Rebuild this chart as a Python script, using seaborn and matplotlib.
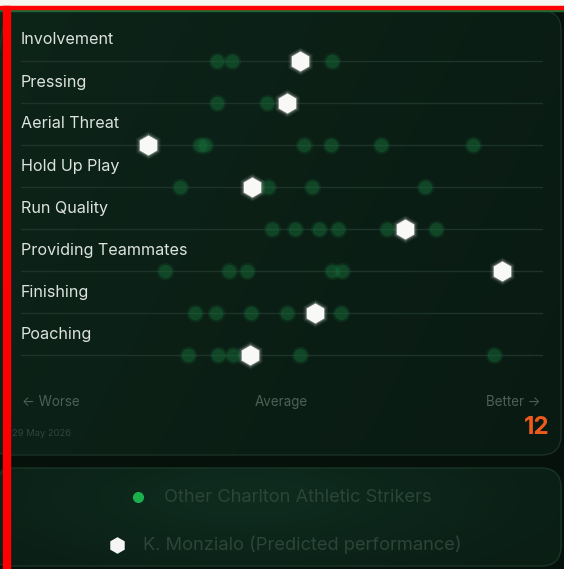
import numpy as np
import pandas as pd
import matplotlib.pyplot as plt
import seaborn as sns
from matplotlib.patches import FancyBboxPatch, Rectangle

# Data: scores relative to average (roughly -3 = worse, +3 = better)
metrics = ["Involvement", "Pressing", "Aerial Threat", "Hold Up Play",
           "Run Quality", "Providing Teammates", "Finishing", "Poaching"]

involvement_others = [-0.75, -0.57, 0.57]
pressing_others = [-0.75, -0.17]
aerial_others = [-0.94, -0.89, 0.25, 0.56, 1.14, 2.20]
holdup_others = [-1.17, -0.16, 0.34, 1.64]
runquality_others = [-0.11, 0.15, 0.43, 0.64, 1.21, 1.77]
providing_others = [-1.34, -0.61, -0.40, 0.57, 0.69]
finishing_others = [-1.00, -0.76, -0.36, 0.06, 0.68]
poaching_others = [-1.08, -0.74, -0.56, 0.21, 2.44]

player_scores = [0.21, 0.06, -1.54, -0.34, 1.41, 2.53, 0.38, -0.37]

others_lists = [involvement_others, pressing_others, aerial_others, holdup_others,
                runquality_others, providing_others, finishing_others, poaching_others]

others = pd.DataFrame(
    [(m, v) for m, vals in zip(metrics, others_lists) for v in vals],
    columns=["metric", "score"])
player = pd.DataFrame({"metric": metrics, "score": player_scores})

W, H = 564, 569
fig = plt.figure(figsize=(W / 100, H / 100), dpi=100)
fig.patch.set_facecolor("#06110c")

def fx(px):
    return px / W

def fy(py):
    return 1 - py / H

# page frame bits
fig.patches.append(Rectangle((0, fy(6)), 1, 6 / H, transform=fig.transFigure,
                             color="#f7f5f0", zorder=0))
fig.patches.append(Rectangle((0, fy(8.5)), 1, 2.5 / H, transform=fig.transFigure,
                             color="#ff0000", zorder=5))
fig.patches.append(Rectangle((0, fy(10.5)), 1, 2 / H, transform=fig.transFigure,
                             color="#1a6a35", zorder=4))

# background axes holding the two cards with soft gradients
bg = fig.add_axes([0, 0, 1, 1])
bg.set_xlim(0, W)
bg.set_ylim(H, 0)
bg.set_axis_off()
bg.set_zorder(1)

card1 = FancyBboxPatch((-10, 10.5), 571, 444.5, boxstyle="round,pad=0,rounding_size=20",
                       facecolor="none", edgecolor="#1a3126", linewidth=1.0, zorder=3)
card2 = FancyBboxPatch((-10, 468), 571, 98, boxstyle="round,pad=0,rounding_size=20",
                       facecolor="none", edgecolor="#1a3527", linewidth=1.0, zorder=3)
bg.add_patch(card1)
bg.add_patch(card2)

from matplotlib.colors import LinearSegmentedColormap
grad1 = LinearSegmentedColormap.from_list("g1", ["#0d2419", "#091a12"])
gx = np.linspace(0, 1, 200)
gy = np.linspace(0, 1, 200)
GX, GY = np.meshgrid(gx, gy)
im1 = bg.imshow(0.7 * GX + 0.3 * GY, cmap=grad1, extent=(-10, 561, 455, 10.5),
                aspect="auto", zorder=2)
im1.set_clip_path(card1)
grad2 = LinearSegmentedColormap.from_list("g2", ["#0f2c1f", "#0a1e15"])
R = np.sqrt(((GX - 0.45) / 0.6) ** 2 + ((GY - 0.3) / 1.0) ** 2)
im2 = bg.imshow(np.clip(R, 0, 1), cmap=grad2, extent=(-10, 561, 566, 468),
                aspect="auto", zorder=2)
im2.set_clip_path(card2)

# left red bar
fig.patches.append(Rectangle((fx(3), 0), 7 / W, fy(6), transform=fig.transFigure,
                             color="#ff0000", zorder=6))

# strip chart axes: x from 21 to 543 px, rows at y = 61 + 42*i
ax = fig.add_axes([fx(21), fy(376), (543 - 21) / W, (376 - 19) / H])
ax.set_zorder(10)
ax.set_facecolor("none")

for i in range(len(metrics)):
    ax.axhline(i, color="#1e3329", lw=1.0, zorder=1)

# soft green dots (glow + core)
for s, a in [(160, 0.18), (95, 0.38)]:
    sns.stripplot(data=others, x="score", y="metric", order=metrics, orient="h",
                  jitter=False, size=np.sqrt(s), color="#17703a", alpha=a,
                  linewidth=0, ax=ax, zorder=2)

# player hexagons with white glow
for s, a in [(420, 0.06), (330, 0.12), (260, 0.25)]:
    sns.stripplot(data=player, x="score", y="metric", order=metrics, orient="h",
                  jitter=False, size=np.sqrt(s), color="#ffffff", alpha=a,
                  marker="h", linewidth=0, ax=ax, zorder=3)
sns.stripplot(data=player, x="score", y="metric", order=metrics, orient="h",
              jitter=False, size=14.5, color="#f8f8f6", marker="h",
              linewidth=0, ax=ax, zorder=4)

ax.set_xlim(-3, 3)
ax.set_ylim(7.5, -1.0)
ax.set_axis_off()

for i, m in enumerate(metrics):
    ax.text(-3, i - 0.50, m, color="#dde3df", fontsize=11.6, family="Inter",
            va="center", ha="left")

# scale captions
fig.text(fx(22), fy(402), "\u2190 Worse", color="#4f5f57", fontsize=9.7,
         family="Inter", va="center", ha="left")
fig.text(fx(281), fy(402), "Average", color="#4f5f57", fontsize=9.7,
         family="Inter", va="center", ha="center")
fig.text(fx(541), fy(402), "Better \u2192", color="#4f5f57", fontsize=9.7,
         family="Inter", va="center", ha="right")
fig.text(fx(12), fy(434), "29 May 2026", color="#34443c", fontsize=6.8,
         family="Inter", va="center", ha="left")
fig.text(fx(550), fy(428), "12", color="#f05a1a", fontsize=17.5, weight="bold",
         family="Inter", va="center", ha="right")

# legend
fig.lines.append(plt.Line2D([fx(138)], [fy(497)], marker="o", markersize=7,
                            color="#1cb04c", transform=fig.transFigure, zorder=12))
fig.text(fx(164), fy(497), "Other Charlton Athletic Strikers", color="#2b4538",
         fontsize=13.2, family="Inter", va="center", ha="left", zorder=12)
fig.lines.append(plt.Line2D([fx(117)], [fy(545)], marker="h", markersize=12,
                            color="#f5f5f5", markeredgewidth=0,
                            transform=fig.transFigure, zorder=12))
fig.text(fx(143), fy(545), "K. Monzialo (Predicted performance)", color="#2b4538",
         fontsize=13.2, family="Inter", va="center", ha="left", zorder=12)

fig.savefig("out.png", dpi=100, facecolor=fig.get_facecolor())
